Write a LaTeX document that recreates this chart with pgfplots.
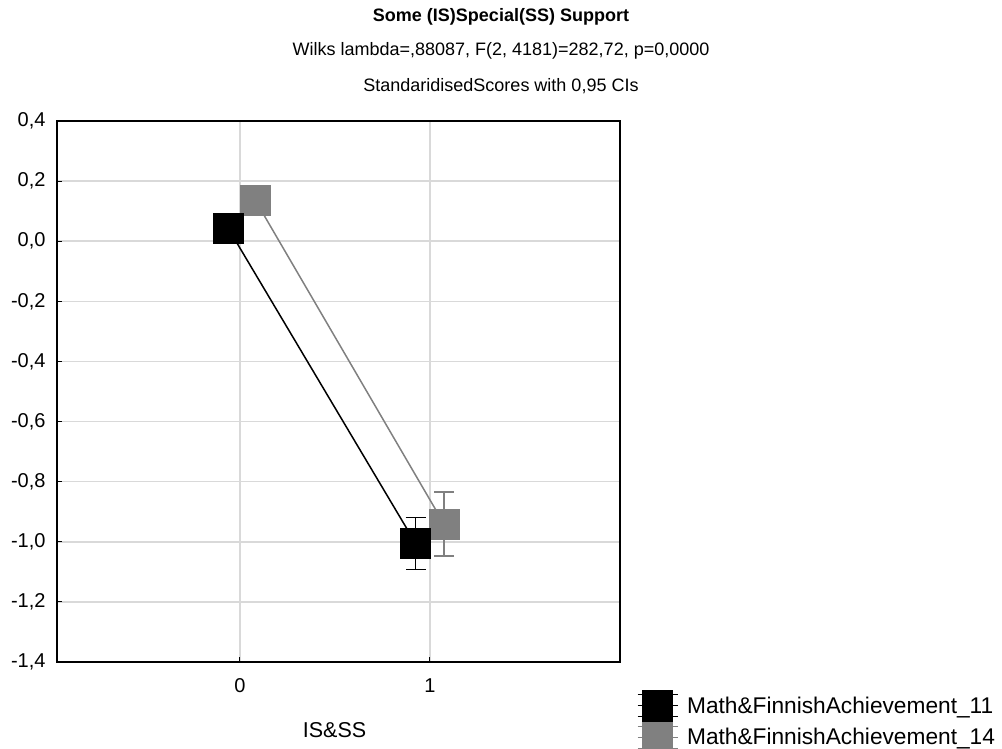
\documentclass[border=0pt]{standalone}
\usepackage{fontspec}
\setmainfont{Liberation Sans}
\usepackage{pgfplots}
\pgfplotsset{compat=1.18}
\definecolor{mgray}{gray}{0.5}
\definecolor{fgray}{gray}{0.5}
\definecolor{lgray}{gray}{0.85}
\begin{document}
\begin{tikzpicture}[x=1pt,y=1pt]
\useasboundingbox (0,0) rectangle (1002,749);
\node[font=\fontsize{18}{22}\selectfont\bfseries] at (501,732) {Some (IS)Special(SS) Support};
\node[font=\fontsize{18}{22}\selectfont] at (501,698) {Wilks lambda=,88087, F(2, 4181)=282,72, p=0,0000};
\node[font=\fontsize{18}{22}\selectfont] at (501,663) {StandaridisedScores with 0,95 CIs};
\begin{axis}[
  at={(57pt,87pt)}, anchor=south west,
  scale only axis, width=563pt, height=541pt,
  xmin=-0.963, xmax=2, ymin=-1.4, ymax=0.4,
  xtick={0,1}, ytick={-1.4,-1.2,-1.0,-0.8,-0.6,-0.4,-0.2,0.0,0.2,0.4},
  xtick pos=bottom, ytick pos=left, tick align=inside,
  major tick length=5pt,
  tick style={black, line width=1pt},
  grid=major, major grid style={lgray, line width=1.5pt},
  axis line style={black, line width=1.5pt},
  font=\fontsize{20}{24}\selectfont,
  /pgf/number format/assume math mode=true,
  yticklabel style={/pgf/number format/use comma, /pgf/number format/fixed,
    /pgf/number format/fixed zerofill, /pgf/number format/precision=1, xshift=-8pt},
  xticklabel style={anchor=center, yshift=-24pt},
  xlabel={IS\&SS},
  xlabel style={at={(axis description cs:0.493,-0.125)}, anchor=center, font=\fontsize{21.5}{25}\selectfont},
  reverse legend,
  legend cell align=left,
  legend style={at={(axis description cs:1.030,-0.0518)}, anchor=north west, draw=none, fill=none,
    inner sep=0pt, row sep=-1pt, font=\fontsize{22.7}{27}\selectfont,
    nodes={inner sep=0pt},
    /tikz/every odd column/.append style={column sep=9pt}},
]
\addplot[mgray, line width=1.5pt, mark=square*, mark size=15pt,
  mark options={fill=fgray, draw=fgray, line width=0.5pt},
  legend image code/.code={
    \fill[fgray] (0pt,-15pt) rectangle (30pt,15pt);
    \draw[mgray, line width=1pt] (-5pt,-11pt) -- (0pt,-11pt) (30pt,-11pt) -- (35pt,-11pt) (-5pt,11pt) -- (0pt,11pt) (30pt,11pt) -- (35pt,11pt) (-5pt,0pt) -- (0pt,0pt) (30pt,0pt) -- (35pt,0pt);
  },
  error bars/.cd, y dir=both, y explicit,
  error bar style={mgray, line width=1.5pt},
  error mark options={mgray, line width=1.5pt, mark size=10pt, rotate=90}]
  coordinates {(0.08,0.137) +- (0,0.03) (1.074,-0.941) +- (0,0.107)};
\addlegendentry{Math\&FinnishAchievement\_14}
\addplot[black, line width=1.5pt, mark=square*, mark size=15pt,
  mark options={fill=black, draw=black, line width=0.5pt},
  legend image code/.code={
    \fill[black] (0pt,-16pt) rectangle (30pt,15pt);
    \draw[black, line width=1pt] (-5pt,-11pt) -- (0pt,-11pt) (30pt,-11pt) -- (35pt,-11pt) (-5pt,11pt) -- (0pt,11pt) (30pt,11pt) -- (35pt,11pt) (-5pt,0pt) -- (0pt,0pt) (30pt,0pt) -- (35pt,0pt);
  },
  error bars/.cd, y dir=both, y explicit,
  error bar style={black, line width=1.5pt},
  error mark options={black, line width=1.5pt, mark size=10pt, rotate=90}]
  coordinates {(-0.063,0.044) +- (0,0.03) (0.925,-1.006) +- (0,0.087)};
\addlegendentry{Math\&FinnishAchievement\_11}
\end{axis}
\end{tikzpicture}
\end{document}
